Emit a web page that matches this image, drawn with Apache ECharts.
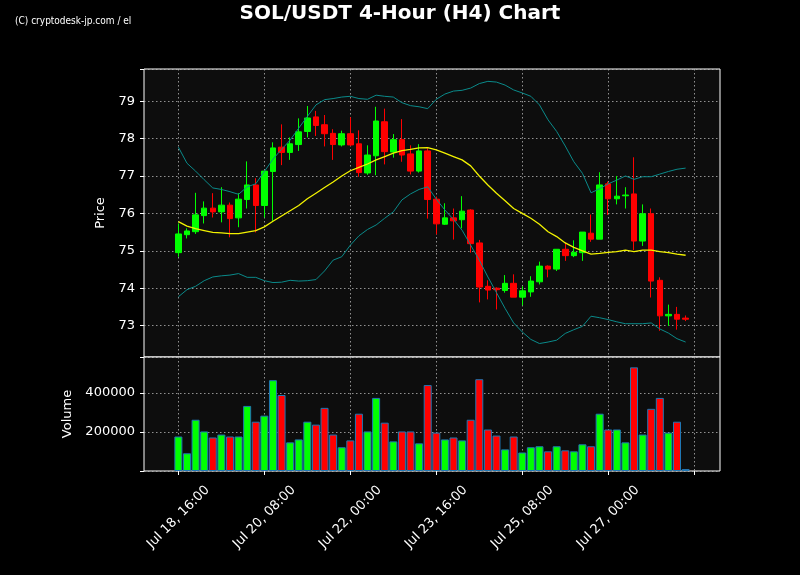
<!DOCTYPE html>
<html>
<head>
<meta charset="utf-8">
<script src="https://cdn.jsdelivr.net/npm/echarts@6/dist/echarts.min.js"></script>
<style>
html,body{margin:0;padding:0;background:#000;}
#chart{width:800px;height:575px;}
</style>
</head>
<body>
<div id="chart"></div>
<script>
// ---- Data ----
const padBefore = 4, padAfter = 4;

const openP  = [74.95,75.43,75.51,75.94,76.14,76.04,76.22,75.88,76.37,76.76,
                76.21,77.12,77.77,77.63,77.84,78.19,78.58,78.37,78.14,77.83,
                78.13,77.86,77.08,77.54,78.45,77.64,77.97,77.59,77.13,77.67,
                76.38,75.71,75.88,75.83,76.09,75.21,74.05,74.00,73.94,74.13,
                73.76,73.90,74.17,74.59,74.51,75.04,74.87,74.95,75.47,75.31,
                76.79,76.39,76.47,76.52,75.26,75.99,74.21,73.26,73.30,73.20];
const closeP = [75.45,75.53,75.96,76.14,76.04,76.22,75.86,76.38,76.76,76.21,
                77.13,77.75,77.63,77.86,78.18,78.55,78.35,78.13,77.84,78.13,
                77.83,77.09,77.56,78.47,77.65,77.97,77.56,77.13,77.67,76.37,
                75.72,75.88,75.80,76.06,75.19,74.03,73.95,73.96,74.13,73.76,
                73.93,74.19,74.59,74.51,75.04,74.87,74.96,75.50,75.31,76.76,
                76.39,76.46,76.49,75.26,75.99,74.19,73.26,73.30,73.17,73.17];
const lowP   = [74.84,75.33,75.45,75.73,75.89,75.76,75.36,75.63,76.13,75.49,
                75.89,75.80,77.29,77.43,77.67,78.03,78.07,77.79,77.43,77.79,
                77.80,76.98,77.03,77.02,77.31,77.49,77.38,77.04,77.09,75.86,
                75.44,75.69,75.30,75.60,74.95,73.62,73.70,73.43,73.88,73.76,
                73.54,73.77,74.10,74.29,74.46,74.73,74.83,74.73,75.24,75.31,
                75.96,76.24,76.13,75.02,75.13,73.75,72.86,72.99,72.89,73.12];
const highP  = [75.73,75.60,76.55,76.32,76.54,76.70,76.29,76.54,77.39,76.94,
                77.13,77.90,78.38,78.03,78.54,78.87,78.74,78.63,78.25,78.21,
                78.57,78.22,77.82,78.85,78.80,78.12,78.52,77.82,77.85,77.74,
                76.45,76.27,76.13,76.46,76.11,75.29,74.21,74.02,74.35,74.37,
                74.05,74.32,74.71,74.61,75.04,75.22,75.28,75.50,75.97,77.10,
                76.85,77.00,76.70,77.50,76.24,76.13,74.29,73.56,73.50,73.27];

const bbUpper = [77.77,77.34,77.13,76.90,76.68,76.64,76.58,76.51,76.71,76.79,
                 77.12,77.45,77.71,77.96,78.28,78.59,78.90,79.04,79.07,79.11,
                 79.13,79.07,79.05,79.16,79.13,79.11,78.96,78.88,78.85,78.80,
                 79.05,79.19,79.27,79.29,79.35,79.47,79.53,79.51,79.43,79.30,
                 79.22,79.13,78.90,78.50,78.19,77.80,77.38,77.07,76.55,76.66,
                 76.79,76.89,77.00,76.91,76.98,76.98,77.05,77.12,77.18,77.21];
const bbMid   = [75.78,75.66,75.59,75.54,75.49,75.48,75.46,75.46,75.50,75.54,
                 75.64,75.79,75.93,76.07,76.21,76.39,76.54,76.69,76.84,77.00,
                 77.14,77.23,77.32,77.43,77.52,77.61,77.68,77.71,77.75,77.76,
                 77.70,77.61,77.52,77.43,77.27,77.00,76.76,76.54,76.34,76.13,
                 76.00,75.87,75.71,75.51,75.38,75.21,75.09,75.00,74.91,74.93,
                 74.96,74.98,75.02,74.98,75.02,75.02,74.98,74.95,74.91,74.88];
const bbLower = [73.77,73.96,74.05,74.20,74.30,74.33,74.35,74.39,74.29,74.29,
                 74.20,74.15,74.16,74.21,74.19,74.20,74.23,74.46,74.75,74.84,
                 75.15,75.40,75.57,75.69,75.87,76.04,76.36,76.52,76.64,76.71,
                 76.38,76.09,75.84,75.55,75.15,74.75,74.30,73.88,73.46,73.07,
                 72.83,72.63,72.52,72.56,72.61,72.79,72.89,72.98,73.25,73.21,
                 73.16,73.10,73.05,73.05,73.05,73.07,72.91,72.80,72.65,72.56];

const volume = [177000,91000,263000,203000,172000,187000,177000,177000,334000,253000,
                284000,466000,390000,147000,162000,253000,238000,324000,187000,122000,
                157000,294000,203000,375000,248000,152000,203000,203000,142000,441000,
                197000,162000,172000,157000,263000,471000,213000,182000,111000,177000,
                95000,122000,127000,101000,127000,106000,101000,137000,127000,294000,
                213000,213000,147000,532000,187000,319000,375000,197000,253000,10000];

const priceTickLabels = [73,74,75,76,77,78,79];
const volumeTickLabels = [200000,400000];
const xTickLabels = ['Jul 18, 16:00','Jul 20, 08:00','Jul 22, 00:00','Jul 23, 16:00','Jul 25, 08:00','Jul 27, 00:00'];

// ---- Build categories (one per 4-hour slot, plus empty padding slots) ----
const n = openP.length;
const categories = [];
for (let i = -padBefore; i < n + padAfter; i++) categories.push('c' + i);
const pad = arr => Array(padBefore).fill('-').concat(arr, Array(padAfter).fill('-'));

const candleData = pad(openP.map((o, i) => [o, closeP[i], lowP[i], highP[i]]));
const volData = pad(volume.map((v, i) => ({
  value: v,
  itemStyle: { color: closeP[i] >= openP[i] ? '#00ff00' : '#ff0000' }
})));

const isTick = idx => { const j = idx - padBefore; return j >= 0 && j % 10 === 0 && j <= 60; };
const isLabel = idx => { const j = idx - padBefore; return j >= 0 && j % 10 === 0 && (j / 10) < xTickLabels.length; };
const labelFor = idx => xTickLabels[(idx - padBefore) / 10] || '';

const gridLine = { show: true, lineStyle: { color: 'rgba(190,190,190,0.75)', width: 1, type: [1.5, 2.5] } };
const txt = { color: '#ffffff', fontSize: 13, fontFamily: 'DejaVu Sans' };

const chart = echarts.init(document.getElementById('chart'), null, { renderer: 'canvas' });
chart.setOption({
  backgroundColor: '#000000',
  animation: false,
  title: {
    text: 'SOL/USDT 4-Hour (H4) Chart',
    left: 'center', top: -1,
    textStyle: { color: '#ffffff', fontSize: 20, fontWeight: 'bold', fontFamily: 'DejaVu Sans' }
  },
  graphic: [{
    type: 'text', left: 15, top: 16,
    style: { text: '(C) cryptodesk-jp.com / el', fill: '#ffffff', font: '10px "Liberation Sans Narrow", "DejaVu Sans Condensed", sans-serif' }
  }],
  grid: [
    { left: 144, right: 80, top: 69, height: 288, show: true, backgroundColor: '#0d0d0d', borderColor: '#ffffff', borderWidth: 1 },
    { left: 144, right: 80, top: 357, height: 114, show: true, backgroundColor: '#0d0d0d', borderColor: '#ffffff', borderWidth: 1 }
  ],
  xAxis: [
    { type: 'category', gridIndex: 0, data: categories, boundaryGap: false,
      axisLine: { show: false }, axisTick: { show: false }, axisLabel: { show: false },
      splitLine: Object.assign({ interval: (i) => isTick(i) }, gridLine) },
    { type: 'category', gridIndex: 1, data: categories, boundaryGap: false,
      axisLine: { show: false },
      axisTick: { show: true, interval: (i) => isTick(i), length: 4, lineStyle: { color: '#ffffff' } },
      axisLabel: Object.assign({ interval: (i) => isLabel(i), rotate: 45, margin: 46,
        align: 'center', verticalAlign: 'middle',
        formatter: (v, i) => labelFor(i) }, txt),
      splitLine: Object.assign({ interval: (i) => isTick(i) }, gridLine) }
  ],
  yAxis: [
    { type: 'value', gridIndex: 0, min: 72.16, max: 79.86, minInterval: 1, maxInterval: 1,
      name: 'Price', nameLocation: 'middle', nameGap: 31, nameTextStyle: txt,
      axisLine: { show: false },
      axisTick: { show: true, length: 4, lineStyle: { color: '#ffffff' } },
      axisLabel: Object.assign({ margin: 9, formatter: v => priceTickLabels.some(t => Math.abs(t - v) < 1e-6) ? String(Math.round(v)) : '' }, txt),
      splitLine: gridLine },
    { type: 'value', gridIndex: 1, min: 0, max: 585000, minInterval: 200000, maxInterval: 200000,
      name: 'Volume', nameLocation: 'middle', nameGap: 66, nameTextStyle: txt,
      axisLine: { show: false },
      axisTick: { show: true, length: 4, lineStyle: { color: '#ffffff' } },
      axisLabel: Object.assign({ margin: 9, formatter: v => volumeTickLabels.indexOf(Math.round(v)) >= 0 ? String(Math.round(v)) : '' }, txt),
      splitLine: gridLine }
  ],
  series: [
    { type: 'candlestick', xAxisIndex: 0, yAxisIndex: 0, data: candleData, barWidth: 6,
      itemStyle: { color: '#00ff00', color0: '#ff0000', borderColor: '#00ff00', borderColor0: '#ff0000', borderWidth: 1 } },
    { type: 'line', xAxisIndex: 0, yAxisIndex: 0, data: pad(bbUpper), showSymbol: false, symbol: 'none',
      lineStyle: { color: '#0a8a8a', width: 1 } },
    { type: 'line', xAxisIndex: 0, yAxisIndex: 0, data: pad(bbMid), showSymbol: false, symbol: 'none',
      lineStyle: { color: '#f2f200', width: 1.3 } },
    { type: 'line', xAxisIndex: 0, yAxisIndex: 0, data: pad(bbLower), showSymbol: false, symbol: 'none',
      lineStyle: { color: '#0a8a8a', width: 1 } },
    { type: 'bar', xAxisIndex: 1, yAxisIndex: 1, data: volData, barWidth: 8,
      itemStyle: { borderColor: '#1f77b4', borderWidth: 1 } }
  ]
});
</script>
</body>
</html>
